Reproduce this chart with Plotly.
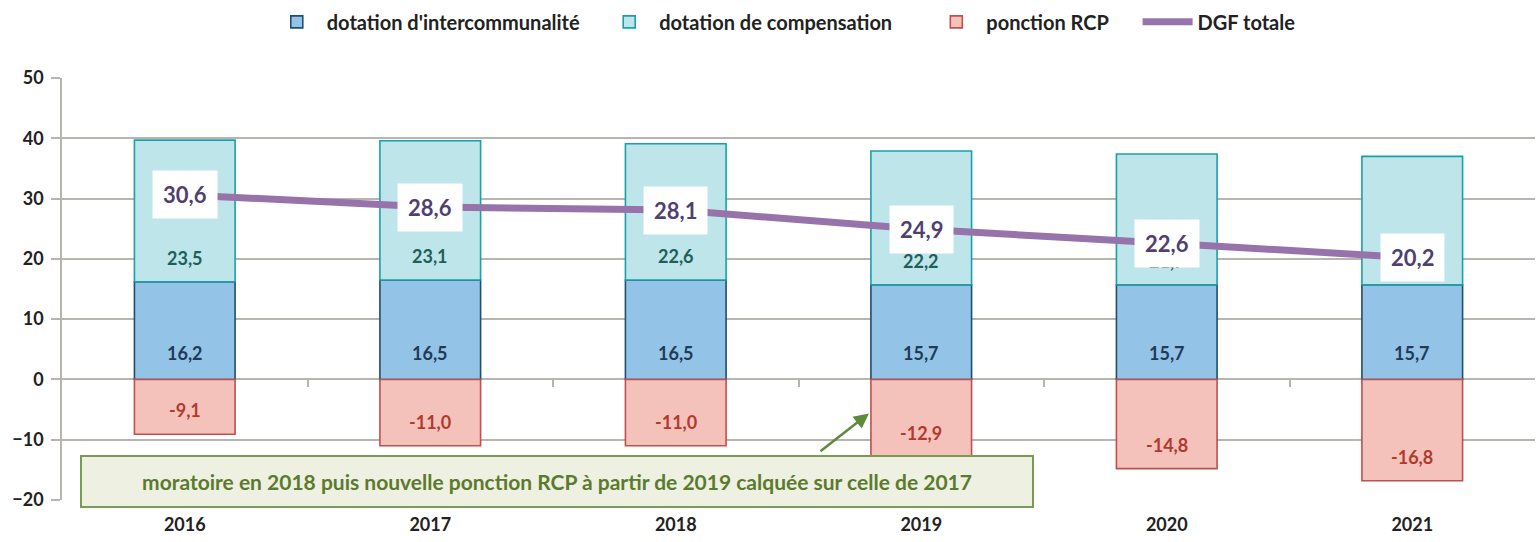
import plotly.graph_objects as go

years = ["2016", "2017", "2018", "2019", "2020", "2021"]
dot_inter = [16.2, 16.5, 16.5, 15.7, 15.7, 15.7]
dot_comp = [23.5, 23.1, 22.6, 22.2, 21.7, 21.3]
ponction_rcp = [-9.1, -11.0, -11.0, -12.9, -14.8, -16.8]
dgf_totale = [30.6, 28.6, 28.1, 24.9, 22.6, 20.2]
y_ticks = [-20, -10, 0, 10, 20, 30, 40, 50]
note = "moratoire en 2018 puis nouvelle ponction RCP à partir de 2019 calquée sur celle de 2017"

FONT = "Lato"
fmt = lambda v: f"{v:.1f}".replace(".", ",")
xs = list(range(len(years)))

fig = go.Figure()
fig.add_trace(go.Bar(x=xs, y=dot_inter, name="dotation d'intercommunalité   ",
                     marker=dict(color="#93c3e6", line=dict(color="#1f4e6e", width=1.6))))
fig.add_trace(go.Bar(x=xs, y=dot_comp, name="dotation de compensation      ",
                     marker=dict(color="#bde5ea", line=dict(color="#1aa0aa", width=1.6))))
fig.add_trace(go.Bar(x=xs, y=ponction_rcp, name="ponction RCP     ",
                     marker=dict(color="#f4c2bb", line=dict(color="#c0504d", width=1.6))))
fig.add_trace(go.Scatter(x=xs, y=dgf_totale, name="DGF totale", mode="lines",
                         line=dict(color="#9773ab", width=7)))
fig.add_trace(go.Scatter(x=[0, 5], y=[None, None], xaxis="x2", showlegend=False,
                         hoverinfo="skip"))

ann = []
for i in xs:
    ann.append(dict(x=i, y=0, text=fmt(dot_inter[i]), showarrow=False,
                    yshift=26, font=dict(family=FONT, size=18, color="#1f3a5a", weight="bold")))
    ann.append(dict(x=i, y=dot_inter[i], text=fmt(dot_comp[i]), showarrow=False,
                    yshift=24, font=dict(family=FONT, size=18, color="#1f5f5a", weight="bold")))
    ann.append(dict(x=i, y=ponction_rcp[i], text=fmt(ponction_rcp[i]), showarrow=False,
                    yshift=24, font=dict(family=FONT, size=18, color="#b03a2e", weight="bold")))
for i in xs:
    ann.append(dict(x=i, y=dgf_totale[i], text=fmt(dgf_totale[i]), showarrow=False,
                    bgcolor="white", borderpad=10,
                    font=dict(family=FONT, size=22, color="#4f3f72", weight="bold")))
# note box
ann.append(dict(xref="paper", yref="y", x=0.336, xanchor="center", y=-16.9, text=note,
                showarrow=False, bgcolor="#eef1e2", bordercolor="#7b9a52", borderwidth=2,
                borderpad=12, width=926,
                font=dict(family=FONT, size=21, color="#5c7a2e", weight="bold")))
ann.append(dict(x=2.787, y=-5.64, xref="x", yref="y", text="", showarrow=True,
                arrowhead=2, arrowsize=1.2, arrowwidth=2.5, arrowcolor="#5e8a3a",
                ax=-50, ay=39))

fig.update_layout(
    annotations=ann,
    width=1537, height=542,
    margin=dict(l=62, r=2, t=78, b=42, autoexpand=False),
    barmode="relative", bargap=0.59,
    plot_bgcolor="white", paper_bgcolor="white",
    font=dict(family=FONT, color="#222"),
    legend=dict(orientation="h", x=0.49, xanchor="center", y=1.133, yanchor="middle",
                font=dict(family=FONT, size=20, color="#222", weight="bold"),
                itemwidth=50, traceorder="normal"),
    xaxis=dict(range=[-0.5, 5.5], tickvals=xs, ticktext=years, showgrid=False,
               showline=False, zeroline=False, ticks="",
               tickfont=dict(family=FONT, size=18, color="#222", weight="bold"),
               ticklabelstandoff=12),
    yaxis=dict(range=[-20, 50], tickvals=y_ticks, showgrid=True, gridcolor="#b8b4b0",
               gridwidth=1.5, zeroline=True, zerolinecolor="#b8b4b0", zerolinewidth=1.5,
               showline=True, linecolor="#b8b4b0", linewidth=1.5,
               ticks="outside", ticklen=9, tickcolor="#b8b4b0", tickwidth=1.5,
               tickfont=dict(family=FONT, size=18, color="#222", weight="bold"),
               ticklabelstandoff=4),
    xaxis2=dict(overlaying="x", anchor="free", position=20 / 70, range=[-0.5, 5.5],
                tickvals=[0.5, 1.5, 2.5, 3.5, 4.5], showticklabels=False, ticks="outside",
                ticklen=7, tickcolor="#b8b4b0", tickwidth=1.5, showline=False,
                showgrid=False, zeroline=False, side="bottom"),
)

fig.write_html("out.html", config={"displayModeBar": False},
               post_script="document.body.style.margin='0px';")
